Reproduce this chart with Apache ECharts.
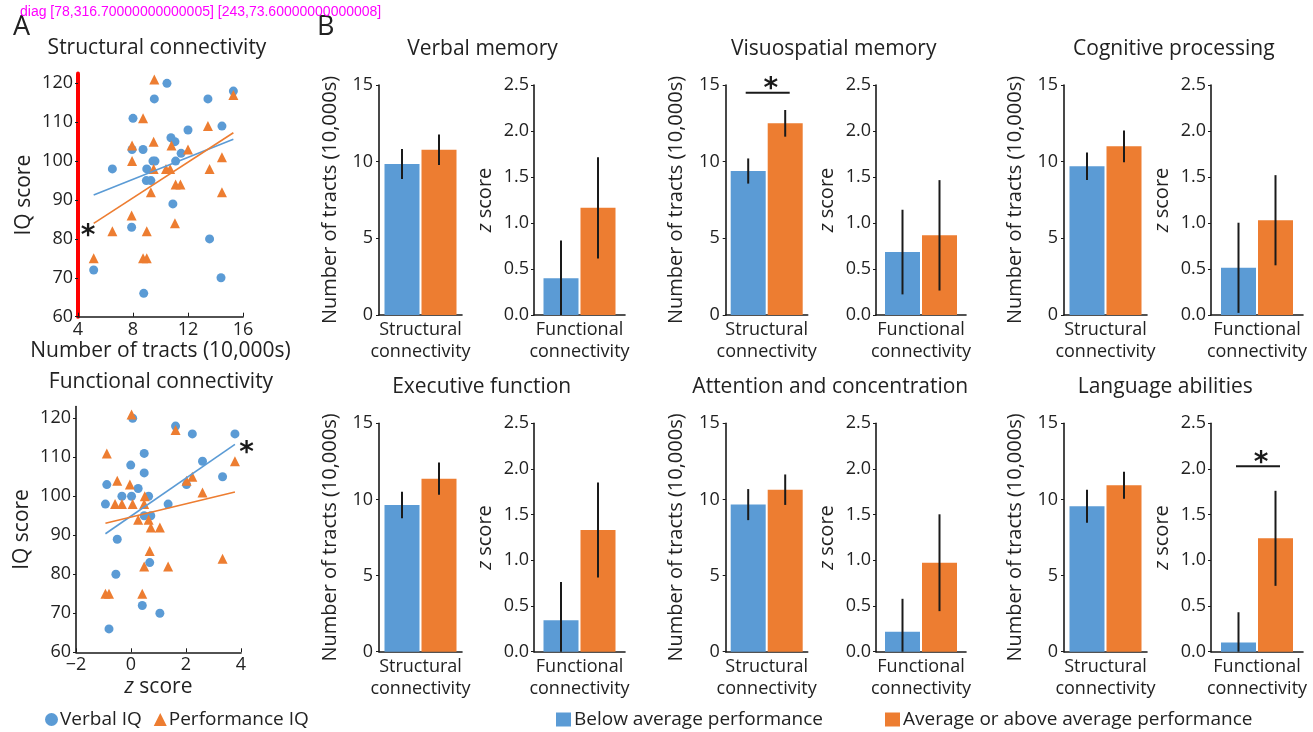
<!DOCTYPE html>
<html><head><meta charset="utf-8">
<script src="https://cdn.jsdelivr.net/npm/echarts@6/dist/echarts.min.js"></script>
<style>html,body{margin:0;padding:0;background:#fff}#c{width:1313px;height:732px}</style>
</head><body><div id="c"></div>
<script>
// ---------- Panel A data ----------
const verbalStruct = [[8.0,111],[9.55,116],[10.47,120],[13.45,116],[15.3,118],[6.5,98],[7.93,103],[8.73,103],[7.9,83],[9.0,98],[8.97,95],[9.3,95],[9.45,100],[9.6,100],[10.76,106],[11.05,105],[11.1,100],[11.5,102],[12.0,108],[14.47,109],[10.9,89],[13.57,80],[14.4,70],[5.14,72],[8.78,66]];
const perfStruct = [[9.55,121],[15.3,117],[8.73,111],[13.45,109],[7.93,104],[9.5,105],[10.8,104],[7.93,100],[9.5,98],[10.4,98],[10.7,98],[12.0,103],[13.57,98],[14.47,101],[9.3,92],[11.1,94],[11.45,94],[14.47,92],[7.9,86],[6.5,82],[9.0,82],[11.05,84],[8.73,75],[9.0,75],[5.14,75]];
const verbalFunc = [[0.06,120],[1.62,118],[2.23,116],[3.78,116],[0.48,111],[2.6,109],[-0.01,108],[0.48,106],[3.33,105],[-0.88,103],[0.26,102],[2.02,103],[-0.33,100],[0.02,100],[0.64,100],[-0.93,98],[1.35,98],[0.48,95],[0.72,95],[-0.5,89],[0.68,83],[-0.55,80],[0.41,72],[1.05,70],[-0.8,66]];
const perfFunc = [[0.02,121],[1.62,117],[-0.88,111],[3.78,109],[-0.5,104],[-0.04,103],[2.02,104],[2.23,105],[2.6,101],[0.5,100],[-0.58,98],[-0.33,98],[0.06,98],[0.48,98],[0.26,94],[0.64,94],[0.72,92],[1.05,92],[0.68,86],[0.48,82],[1.35,82],[3.33,84],[-0.93,75],[-0.8,75],[0.41,75]];
const verbalStructFit = [[5.14,91.3],[15.3,105.6]];
const perfStructFit = [[5.14,84.0],[15.3,107.3]];
const verbalFuncFit = [[-0.93,90.4],[3.78,113.3]];
const perfFuncFit = [[-0.93,93.1],[3.78,101.1]];
const starStruct = [[4.73,82.3]];
const starFunc = [[4.2,112.7]];

// ---------- Panel B data ----------
const domains = ['Verbal memory','Visuospatial memory','Cognitive processing','Executive function','Attention and concentration','Language abilities'];
const structCat = ['Structural connectivity'];
const funcCat = ['Functional connectivity'];
const structBelow = [9.85, 9.39, 9.70, 9.63, 9.66, 9.55];
const structBelowErr = [0.98, 0.82, 0.90, 0.87, 1.02, 1.08];
const structAbove = [10.78, 12.50, 11.00, 11.36, 10.64, 10.93];
const structAboveErr = [0.99, 0.87, 1.03, 1.06, 1.00, 0.88];
const funcBelow = [0.40, 0.684, 0.513, 0.343, 0.219, 0.102];
const funcBelowErr = [0.41, 0.46, 0.49, 0.42, 0.36, 0.33];
const funcAbove = [1.165, 0.866, 1.03, 1.332, 0.974, 1.241];
const funcAboveErr = [0.55, 0.60, 0.49, 0.52, 0.53, 0.52];
const sigStruct = [null, 14.5, null, null, null, null];
const sigFunc = [null, null, null, null, null, 2.03];

const BLUE = '#5B9BD5', ORANGE = '#ED7D31', INK = '#1a1a1a', TXT = '#222222';
const FONT = 'Open Sans';
const BAR_W = 35, BAR_GAP_PX = 2;
const HALF = (BAR_W + BAR_GAP_PX) / 2;

const rowTop = [85, 423.3], rowH = [230, 228.4];
const colLeftS = [379, 725.7, 1064], colWidthS = [83, 82, 83];
const colLeftF = [534, 876, 1211], colWidthF = [91, 90, 92];
const titleX = [482.5, 833.7, 1173.8, 481.7, 830.3, 1165.3];
const titleY = [52, 390];

const grid = [
  {left: 78, top: 73.6, width: 165, height: 243.1},
  {left: 76, top: 406.6, width: 165, height: 245.7}
];
const xAxis = [], yAxis = [], series = [];
const mkLine = () => ({show: true, onZero: false, lineStyle: {color: INK, width: 1.6}});
const lbl = (extra) => Object.assign({color: TXT, fontSize: 18, fontFamily: FONT}, extra || {});

xAxis.push({gridIndex: 0, type: 'value', min: 4, max: 16, interval: 4, axisLine: mkLine(),
  axisTick: {inside: true, length: 4, lineStyle: {color: INK}}, splitLine: {show: false},
  axisLabel: lbl({margin: 4}), name: 'Number of tracts (10,000s)', nameLocation: 'middle', nameGap: 24,
  nameTextStyle: {color: TXT, fontSize: 21, fontFamily: FONT}});
yAxis.push({gridIndex: 0, type: 'value', min: 60, max: 122.5, interval: 10, axisLine: {show: true, onZero: false, lineStyle: {color: 'red', width: 4}},
  axisTick: {show: true, length: 3, lineStyle: {color: INK}}, splitLine: {show: false},
  axisLabel: lbl({margin: 5, showMaxLabel: false}), name: 'IQ score', nameLocation: 'middle', nameGap: 43,
  nameTextStyle: {color: TXT, fontSize: 21, fontFamily: FONT}});
xAxis.push({gridIndex: 1, type: 'value', min: -2, max: 4, interval: 2, axisLine: mkLine(),
  axisTick: {inside: true, length: 4, lineStyle: {color: INK}}, splitLine: {show: false},
  axisLabel: lbl({margin: 4, formatter: v => v < 0 ? '\u2212' + Math.abs(v) : String(v)}),
  name: '{i|z} score', nameLocation: 'middle', nameGap: 24,
  nameTextStyle: {color: TXT, fontSize: 21, fontFamily: FONT, rich: {i: {fontStyle: 'italic', fontSize: 21, fontFamily: FONT, color: TXT}}}});
yAxis.push({gridIndex: 1, type: 'value', min: 60, max: 123, interval: 10, axisLine: mkLine(),
  axisTick: {show: true, length: 3, lineStyle: {color: INK}}, splitLine: {show: false},
  axisLabel: lbl({margin: 5, showMaxLabel: false}), name: 'IQ score', nameLocation: 'middle', nameGap: 43,
  nameTextStyle: {color: TXT, fontSize: 21, fontFamily: FONT}});

function starRender(params, api) {
  const c = api.coord([api.value(0), api.value(1)]);
  return {type: 'text', style: {text: '*', x: c[0], y: c[1] + 7, fontSize: 28, fontWeight: 'bold',
    fontFamily: 'DejaVu Sans', align: 'center', verticalAlign: 'middle', fill: INK}};
}
function fitRender(color) {
  return function (params, api) {
    const p1 = api.coord([api.value(0), api.value(1)]);
    const p2 = api.coord([api.value(2), api.value(3)]);
    return {type: 'line', shape: {x1: p1[0], y1: p1[1], x2: p2[0], y2: p2[1]}, style: {stroke: color, lineWidth: 1.6}};
  };
}
function scatterSet(gi, verbal, perf, vFit, pFit, star) {
  series.push({name: 'Verbal IQ', type: 'scatter', xAxisIndex: gi, yAxisIndex: gi, data: verbal, symbol: 'circle', symbolSize: 9, itemStyle: {color: BLUE, opacity: 1}, z: 3});
  series.push({name: 'Performance IQ', type: 'scatter', xAxisIndex: gi, yAxisIndex: gi, data: perf, symbol: 'triangle', symbolSize: 10, itemStyle: {color: ORANGE, opacity: 1}, z: 3});
  series.push({type: 'custom', xAxisIndex: gi, yAxisIndex: gi, data: [vFit[0].concat(vFit[1])], renderItem: fitRender(BLUE), z: 4, silent: true});
  series.push({type: 'custom', xAxisIndex: gi, yAxisIndex: gi, data: [pFit[0].concat(pFit[1])], renderItem: fitRender(ORANGE), z: 4, silent: true});
  series.push({type: 'custom', xAxisIndex: gi, yAxisIndex: gi, data: star, renderItem: starRender, clip: false, z: 5, silent: true});
}
scatterSet(0, verbalStruct, perfStruct, verbalStructFit, perfStructFit, starStruct);
scatterSet(1, verbalFunc, perfFunc, verbalFuncFit, perfFuncFit, starFunc);

function errRender(params, api) {
  const p1 = api.coord([api.value(0), api.value(1)]);
  const p2 = api.coord([api.value(0), api.value(2)]);
  const dx = api.value(3) * HALF;
  return {type: 'line', shape: {x1: p1[0] + dx, y1: p1[1], x2: p2[0] + dx, y2: p2[1]}, style: {stroke: INK, lineWidth: 2}};
}
function sigRender(params, api) {
  const c = api.coord([api.value(0), api.value(1)]);
  return {type: 'group', children: [
    {type: 'line', shape: {x1: c[0] - 21, y1: c[1], x2: c[0] + 23, y2: c[1]}, style: {stroke: INK, lineWidth: 2}},
    {type: 'text', style: {text: '*', x: c[0] + 4, y: c[1] - 3, fontSize: 28, fontWeight: 'bold', fontFamily: 'DejaVu Sans', align: 'center', verticalAlign: 'middle', fill: INK}}
  ]};
}

const titles = [
  {text: 'A', left: 13, top: 14, padding: 0, textStyle: {fontSize: 27, fontWeight: 'normal', color: TXT, fontFamily: FONT}},
  {text: 'B', left: 317, top: 14, padding: 0, textStyle: {fontSize: 27, fontWeight: 'normal', color: TXT, fontFamily: FONT}},
  {text: 'Structural connectivity', left: 157, top: 38, textAlign: 'center', padding: 0, textStyle: {fontSize: 21, fontWeight: 'normal', color: TXT, fontFamily: FONT}},
  {text: 'Functional connectivity', left: 161, top: 372, textAlign: 'center', padding: 0, textStyle: {fontSize: 21, fontWeight: 'normal', color: TXT, fontFamily: FONT}}
];

function barBlock(d, kind) {
  const row = d < 3 ? 0 : 1, col = d % 3;
  const gi = grid.length;
  const isS = kind === 'S';
  grid.push({left: isS ? colLeftS[col] : colLeftF[col], width: isS ? colWidthS[col] : colWidthF[col], top: rowTop[row], height: rowH[row]});
  xAxis.push({gridIndex: gi, type: 'category', data: isS ? structCat : funcCat, axisLine: mkLine(), axisTick: {show: false},
    axisLabel: lbl({margin: 4, lineHeight: 22, formatter: v => v.replace(' ', '\n')})});
  const yOpt = {gridIndex: gi, type: 'value', min: 0, max: isS ? 15 : 2.5, interval: isS ? 5 : 0.5,
    axisLine: mkLine(), axisTick: {show: true, length: 3, lineStyle: {color: INK}},
    splitLine: {show: false}, nameLocation: 'middle', nameGap: 39};
  if (isS) {
    yOpt.axisLabel = lbl({margin: 6});
    yOpt.name = 'Number of tracts (10,000s)';
    yOpt.nameTextStyle = {color: TXT, fontSize: 20, fontFamily: FONT};
  } else {
    yOpt.axisLabel = lbl({margin: 5, formatter: v => v.toFixed(1)});
    yOpt.name = '{i|z} score';
    yOpt.nameTextStyle = {color: TXT, fontSize: 20, fontFamily: FONT, rich: {i: {fontStyle: 'italic', fontSize: 20, fontFamily: FONT, color: TXT}}};
  }
  yAxis.push(yOpt);
  const b = isS ? structBelow[d] : funcBelow[d], be = isS ? structBelowErr[d] : funcBelowErr[d];
  const a = isS ? structAbove[d] : funcAbove[d], ae = isS ? structAboveErr[d] : funcAboveErr[d];
  series.push({name: 'Below average performance', type: 'bar', xAxisIndex: gi, yAxisIndex: gi, data: [b], barWidth: BAR_W, barGap: (BAR_GAP_PX / BAR_W * 100) + '%', itemStyle: {color: BLUE}, z: 2});
  series.push({name: 'Average or above average performance', type: 'bar', xAxisIndex: gi, yAxisIndex: gi, data: [a], barWidth: BAR_W, itemStyle: {color: ORANGE}, z: 2});
  series.push({type: 'custom', xAxisIndex: gi, yAxisIndex: gi, renderItem: errRender, z: 4, silent: true, clip: false,
    data: [[0, Math.max(0, b - be), b + be, -1], [0, Math.max(0, a - ae), a + ae, 1]]});
  const sig = isS ? sigStruct[d] : sigFunc[d];
  if (sig !== null) series.push({type: 'custom', xAxisIndex: gi, yAxisIndex: gi, renderItem: sigRender, z: 5, silent: true, clip: false, data: [[0, sig]]});
}
for (let d = 0; d < domains.length; d++) {
  barBlock(d, 'S');
  barBlock(d, 'F');
  titles.push({text: domains[d], left: titleX[d], top: titleY[d < 3 ? 0 : 1] - 13, textAlign: 'center', padding: 0,
    textStyle: {fontSize: 21, fontWeight: 'normal', color: TXT, fontFamily: FONT}});
}

const chart = echarts.init(document.getElementById('c'), null, {renderer: 'canvas'});
chart.setOption({
  animation: false,
  backgroundColor: '#fff',
  textStyle: {fontFamily: FONT},
  title: titles,
  grid: grid, xAxis: xAxis, yAxis: yAxis, series: series,
  legend: [
    {data: [{name: 'Verbal IQ', icon: 'circle'}, {name: 'Performance IQ', icon: 'triangle'}], left: 45, top: 710,
     itemWidth: 13, itemHeight: 13, itemGap: 12, padding: 0, selectedMode: false, textStyle: {fontSize: 19, color: TXT, fontFamily: FONT, padding: [0, 0, 0, -3]}},
    {data: ['Below average performance', 'Average or above average performance'], icon: 'rect', left: 556, top: 710,
     itemWidth: 15, itemHeight: 14, itemGap: 62, padding: 0, selectedMode: false, textStyle: {fontSize: 19, color: TXT, fontFamily: FONT, padding: [0, 0, 0, -2]}}
  ]
});
const p0 = chart.convertToPixel({gridIndex: 0}, [4, 60]);
const p1 = chart.convertToPixel({gridIndex: 0}, [16, 122.5]);
chart.setOption({graphic: [{type: 'text', left: 20, top: 5, z: 100, style: {text: 'diag ' + JSON.stringify(p0) + ' ' + JSON.stringify(p1), fontSize: 14, fill: 'magenta'}}]});
</script></body></html>
